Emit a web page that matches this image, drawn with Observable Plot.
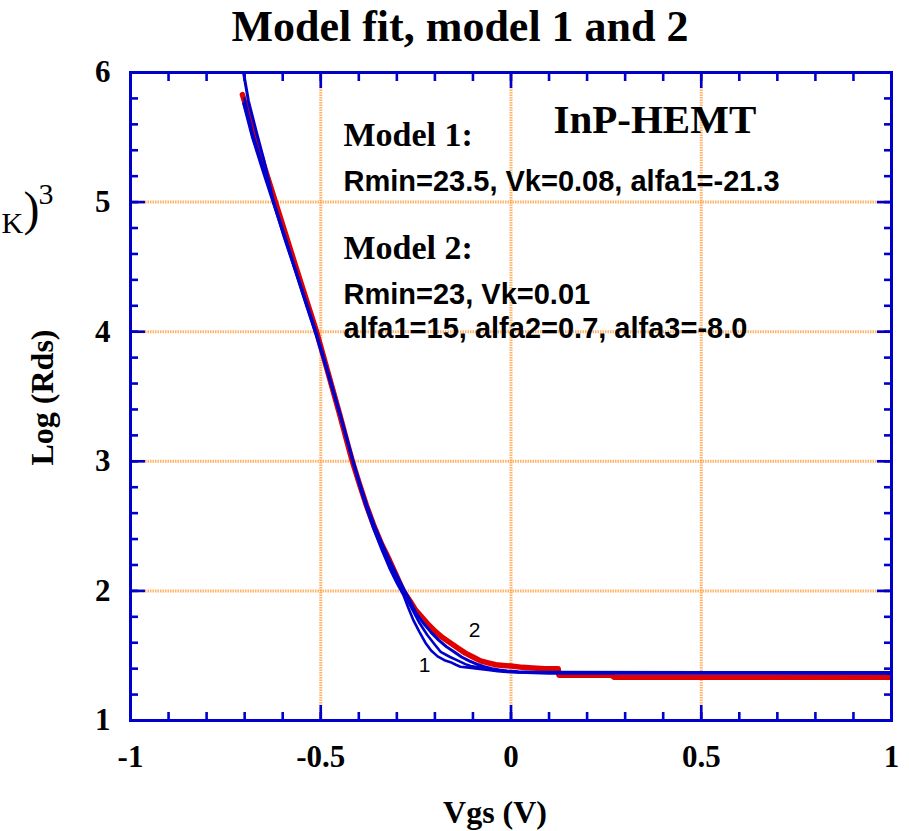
<!DOCTYPE html>
<html>
<head>
<meta charset="utf-8">
<script src="https://cdn.jsdelivr.net/npm/d3@7"></script>
<script src="https://cdn.jsdelivr.net/npm/@observablehq/plot@0.6"></script>
<style>
  html, body { margin: 0; padding: 0; background: #fff; overflow: hidden; }
  #chart { width: 909px; height: 831px; }
</style>
</head>
<body>
<div id="chart"></div>
<script>
// ---- Data ----
const measuredVgs = [-0.706,-0.68,-0.65,-0.619,-0.59,-0.56,-0.535,-0.511,-0.49,-0.47,-0.45,-0.43,-0.417,-0.40,-0.38,-0.36,-0.34,-0.32,-0.30,-0.283,-0.265,-0.25,-0.235,-0.22,-0.20,-0.18,-0.16,-0.14,-0.12,-0.10,-0.08,-0.06,-0.04,-0.02,0.0,0.03,0.057,0.09,0.124,0.126,0.2,0.266,0.27,0.5,0.75,1.0];
const measuredLogR = [5.83,5.58,5.29,5.0,4.73,4.45,4.22,4.0,3.78,3.57,3.36,3.14,3.0,2.84,2.66,2.50,2.36,2.24,2.11,2.0,1.92,1.85,1.80,1.75,1.69,1.64,1.60,1.56,1.52,1.49,1.46,1.445,1.43,1.425,1.42,1.41,1.405,1.40,1.40,1.35,1.35,1.35,1.334,1.334,1.334,1.334];

const model2Vgs = [-0.703,-0.69,-0.67,-0.65,-0.624,-0.595,-0.565,-0.54,-0.513,-0.49,-0.47,-0.45,-0.43,-0.415,-0.40,-0.38,-0.36,-0.34,-0.32,-0.30,-0.283,-0.265,-0.25,-0.23,-0.21,-0.19,-0.17,-0.15,-0.13,-0.11,-0.09,-0.07,-0.05,-0.03,-0.01,0.02,0.06,0.12,0.5,1.0];
const model2LogR = [6.0,5.78,5.55,5.33,5.0,4.72,4.46,4.24,4.0,3.77,3.57,3.37,3.16,3.0,2.85,2.67,2.51,2.37,2.24,2.12,2.02,1.92,1.83,1.75,1.68,1.62,1.57,1.53,1.49,1.46,1.435,1.415,1.40,1.39,1.382,1.376,1.373,1.372,1.371,1.371];

const model1aVgs = [-0.703,-0.68,-0.65,-0.62,-0.59,-0.565,-0.54,-0.513,-0.49,-0.47,-0.45,-0.43,-0.415,-0.40,-0.38,-0.36,-0.34,-0.32,-0.30,-0.283,-0.27,-0.256,-0.24,-0.225,-0.21,-0.193,-0.175,-0.159,-0.145,-0.133,-0.11,-0.088,-0.06,-0.035,0.0,0.1,1.0];
const model1aLogR = [5.76,5.5,5.22,4.95,4.68,4.45,4.22,3.98,3.76,3.56,3.36,3.15,2.99,2.83,2.64,2.47,2.32,2.18,2.06,1.97,1.87,1.77,1.68,1.60,1.54,1.495,1.465,1.45,1.43,1.415,1.408,1.40,1.39,1.38,1.372,1.364,1.362];

const model1bVgs = [-0.701,-0.68,-0.65,-0.62,-0.59,-0.565,-0.54,-0.513,-0.49,-0.47,-0.45,-0.43,-0.415,-0.40,-0.38,-0.36,-0.34,-0.32,-0.30,-0.283,-0.26,-0.24,-0.22,-0.20,-0.185,-0.16,-0.138,-0.12,-0.106,-0.085,-0.062,-0.04,-0.02,0.02,1.0];
const model1bLogR = [5.80,5.54,5.25,4.97,4.70,4.47,4.24,4.0,3.78,3.58,3.37,3.16,3.0,2.85,2.66,2.49,2.34,2.20,2.08,1.99,1.86,1.75,1.66,1.585,1.53,1.49,1.46,1.435,1.42,1.41,1.40,1.39,1.38,1.372,1.368];

const xMajorTicks = [-1, -0.5, 0, 0.5, 1];
const xMinorTicks = d3.range(-10, 11).map(i => i / 10);
const yMajorTicks = [1, 2, 3, 4, 5, 6];
const yMinorTicks = d3.range(5, 31).map(i => i / 5);

const titleText = "Model fit, model 1 and 2";
const xLabel = "Vgs (V)";
const yLabel = "Log (Rds)";
const deviceLabel = "InP-HEMT";
const model1Title = "Model 1:";
const model1Params = "Rmin=23.5, Vk=0.08, alfa1=-21.3";
const model2Title = "Model 2:";
const model2ParamsA = "Rmin=23, Vk=0.01";
const model2ParamsB = "alfa1=15, alfa2=0.7, alfa3=-8.0";
const curveLabel1 = "1";
const curveLabel2 = "2";

// ---- Build tables ----
const toRows = (xs, ys) => xs.map((v, i) => ({v, r: ys[i]}));
const measured = toRows(measuredVgs, measuredLogR);
const model2 = toRows(model2Vgs, model2LogR);
const model1a = toRows(model1aVgs, model1aLogR);
const model1b = toRows(model1bVgs, model1bLogR);

const BLUE = "#0000cc";
const RED = "#e00000";
const GRID = "#ffa64d";
const SERIF = "Liberation Serif, Times New Roman, serif";
const SANS = "Liberation Sans, Arial, sans-serif";

const tickStyle = {stroke: BLUE, strokeWidth: 2.6, tickFormat: () => "", label: null};

const txt = (s, o) => Plot.text([s], {frameAnchor: "top-left", text: d => d, fill: "black", ...o});

const chart = Plot.plot({
  width: 909,
  height: 831,
  marginLeft: 130,
  marginRight: 18,
  marginTop: 72,
  marginBottom: 111,
  style: {fontFamily: SERIF, background: "white", overflow: "visible"},
  x: {domain: [-1, 1]},
  y: {domain: [1, 6]},
  marks: [
    Plot.gridX(xMajorTicks, {stroke: GRID, strokeOpacity: 0.85, strokeWidth: 3, strokeDasharray: "1.5 1"}),
    Plot.gridY(yMajorTicks, {stroke: GRID, strokeOpacity: 0.85, strokeWidth: 3, strokeDasharray: "1.5 1"}),

    // annotation text (drawn over grid, under curves)
    txt(model1Title, {dx: 213, dy: 73, lineAnchor: "bottom", textAnchor: "start", fontSize: 34, fontWeight: "bold", fontFamily: SERIF}),
    txt(model1Params, {dx: 213, dy: 118, lineAnchor: "bottom", textAnchor: "start", fontSize: 29, fontWeight: "bold", fontFamily: SANS}),
    txt(model2Title, {dx: 213, dy: 186, lineAnchor: "bottom", textAnchor: "start", fontSize: 34, fontWeight: "bold", fontFamily: SERIF}),
    txt(model2ParamsA, {dx: 213, dy: 231, lineAnchor: "bottom", textAnchor: "start", fontSize: 29, fontWeight: "bold", fontFamily: SANS}),
    txt(model2ParamsB, {dx: 213, dy: 265, lineAnchor: "bottom", textAnchor: "start", fontSize: 29, fontWeight: "bold", fontFamily: SANS}),
    txt(deviceLabel, {dx: 423, dy: 60, lineAnchor: "bottom", textAnchor: "start", fontSize: 41, fontWeight: "bold", fontFamily: SERIF}),

    // curves
    Plot.line(measured, {x: "v", y: "r", stroke: RED, strokeWidth: 5.5, clip: true}),
    Plot.line(model1a, {x: "v", y: "r", stroke: BLUE, strokeWidth: 2.6, clip: true}),
    Plot.line(model1b, {x: "v", y: "r", stroke: BLUE, strokeWidth: 2.6, clip: true}),
    Plot.line(model2, {x: "v", y: "r", stroke: BLUE, strokeWidth: 3, clip: true}),

    txt(curveLabel1, {dx: 294, dy: 593, lineAnchor: "middle", textAnchor: "middle", fontSize: 21, fontFamily: SANS}),
    txt(curveLabel2, {dx: 344, dy: 558, lineAnchor: "middle", textAnchor: "middle", fontSize: 21, fontFamily: SANS}),

    Plot.frame({stroke: BLUE, strokeWidth: 3}),

    // inward ticks on all four sides
    Plot.axisX(xMinorTicks, {anchor: "bottom", tickSize: -8, ...tickStyle}),
    Plot.axisX(xMajorTicks, {anchor: "bottom", tickSize: -15, ...tickStyle}),
    Plot.axisX(xMinorTicks, {anchor: "top", tickSize: -8, ...tickStyle}),
    Plot.axisX(xMajorTicks, {anchor: "top", tickSize: -15, ...tickStyle}),
    Plot.axisY(yMinorTicks, {anchor: "left", tickSize: -8, ...tickStyle}),
    Plot.axisY(yMajorTicks, {anchor: "left", tickSize: -15, ...tickStyle}),
    Plot.axisY(yMinorTicks, {anchor: "right", tickSize: -8, ...tickStyle}),
    Plot.axisY(yMajorTicks, {anchor: "right", tickSize: -15, ...tickStyle}),

    // tick labels
    Plot.axisX(xMajorTicks, {anchor: "bottom", tickSize: 0, tickPadding: 24, tickFormat: d => String(d), label: null,
      fontSize: 31, fontWeight: "bold", fontFamily: SERIF, fill: "black"}),
    Plot.axisY(yMajorTicks, {anchor: "left", tickSize: 0, tickPadding: 20, tickFormat: d => String(d), label: null,
      fontSize: 31, fontWeight: "bold", fontFamily: SERIF, fill: "black"}),

    // title and axis labels
    txt(titleText, {frameAnchor: "top", dx: -51, dy: -32, lineAnchor: "bottom", textAnchor: "middle", fontSize: 44, fontWeight: "bold", fontFamily: SERIF}),
    txt(xLabel, {frameAnchor: "bottom", dx: -16, dy: 102, lineAnchor: "bottom", textAnchor: "middle", fontSize: 32, fontWeight: "bold", fontFamily: SERIF}),
    txt(yLabel, {frameAnchor: "left", dx: -88, dy: 1, rotate: -90, lineAnchor: "middle", textAnchor: "middle", fontSize: 32, fontWeight: "bold", fontFamily: SERIF}),

    // fragment of a formula at the left edge
    txt("K", {dx: -129, dy: 160, lineAnchor: "bottom", textAnchor: "start", fontSize: 30, fontFamily: SERIF}),
    txt(")", {dx: -107, dy: 152, lineAnchor: "bottom", textAnchor: "start", fontSize: 48, fontFamily: SERIF}),
    txt("3", {dx: -92, dy: 131, lineAnchor: "bottom", textAnchor: "start", fontSize: 30, fontFamily: SERIF})
  ]
});
document.getElementById("chart").appendChild(chart);
</script>
</body>
</html>
